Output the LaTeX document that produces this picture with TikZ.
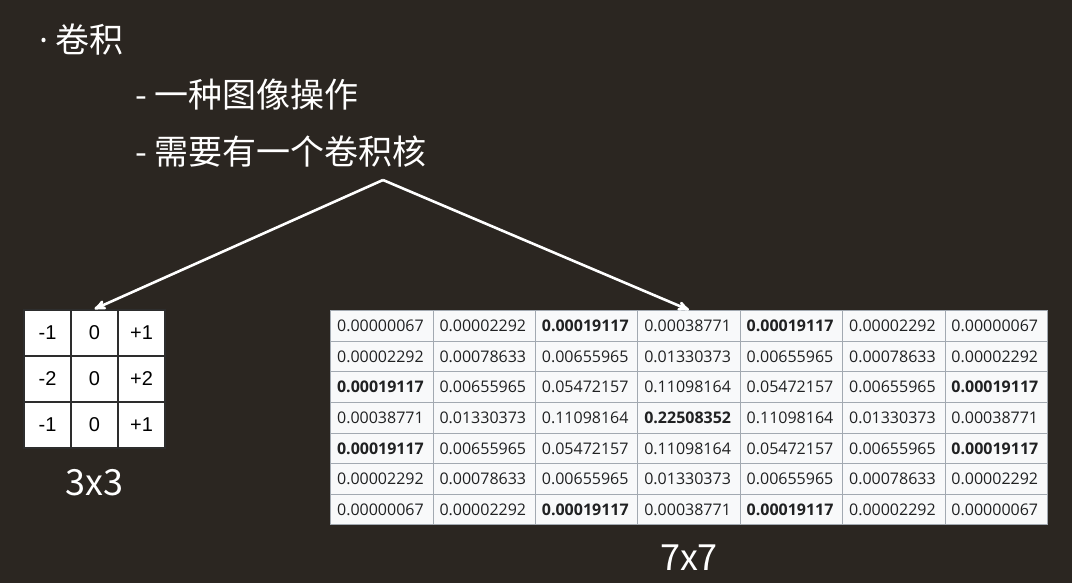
\documentclass[tikz,border=0pt]{standalone}
\usepackage{fontspec}
\usepackage{tikz}
\usetikzlibrary{arrows,matrix,positioning}
\newfontfamily\cjk{Noto Sans CJK SC}
\newfontfamily\tabfont{Open Sans}
\newfontfamily\kernfont{Liberation Sans}
\definecolor{slidebg}{RGB}{43,38,33}
\definecolor{tablebg}{RGB}{248,249,250}
\definecolor{tablegrid}{RGB}{162,169,177}
\definecolor{tabletext}{RGB}{32,33,34}
\definecolor{kerngrid}{RGB}{45,45,45}
\tikzset{
    ampersand replacement=\&,
    >=stealth',
    slidetext/.style={
        text=white,
        font=\cjk\fontsize{34}{40}\selectfont,
        inner sep=0pt,
    },
    sizelabel/.style={
        text=white,
        font=\cjk\fontsize{36}{40}\selectfont,
        inner sep=0pt,
    },
    kcell/.style={
        draw=kerngrid,
        line width=1.6pt,
        fill=white,
        minimum width=47pt,
        minimum height=46pt,
        inner sep=0pt,
        font=\kernfont\fontsize{20}{22}\selectfont,
    },
    gcell/.style={
        draw=tablegrid,
        line width=0.8pt,
        fill=tablebg,
        text=tabletext,
        minimum height=30.6pt,
        inner xsep=6.5pt,
        inner ysep=0pt,
        text width=89.4pt,
        align=left,
        font=\tabfont\fontsize{16}{18}\selectfont,
    },
    peak/.style={
        font=\tabfont\bfseries\fontsize{16}{18}\selectfont,
    },
    pointer/.style={
        draw=white,
        line width=2.6pt,
        ->,
    },
}

\begin{document}
\begin{tikzpicture}[x=1pt, y=-1pt]
    \fill[slidebg] (0,0) rectangle (1072,583);
    \useasboundingbox (0,0) rectangle (1072,583);

    % bullet text
    \node[slidetext, anchor=west] (title) at (39,40) {{\tabfont ·} 卷积};
    \node[slidetext, anchor=west] (op) at (135,95) {- 一种图像操作};
    \node[slidetext, anchor=west] (need) at (135,152) {- 需要有一个卷积核};

    % sobel kernel
    \matrix (kernel) [matrix of nodes, nodes={kcell}, inner sep=0pt,
        column sep=-1.6pt, row sep=-1.6pt, anchor=north west] at (23,309) {
        -1 \& 0 \& +1 \\
        -2 \& 0 \& +2 \\
        -1 \& 0 \& +1 \\
    };
    \node[sizelabel, below=20pt of kernel] (ksize) {3x3};

    % gaussian kernel
    \matrix (gauss) [matrix of nodes, nodes={gcell}, inner sep=0pt,
        column sep=-0.8pt, row sep=-0.8pt, anchor=north west] at (330,310) {
        0.00000067 \& 0.00002292 \& |[peak]| 0.00019117 \& 0.00038771 \& |[peak]| 0.00019117 \& 0.00002292 \& 0.00000067 \\
        0.00002292 \& 0.00078633 \& 0.00655965 \& 0.01330373 \& 0.00655965 \& 0.00078633 \& 0.00002292 \\
        |[peak]| 0.00019117 \& 0.00655965 \& 0.05472157 \& 0.11098164 \& 0.05472157 \& 0.00655965 \& |[peak]| 0.00019117 \\
        0.00038771 \& 0.01330373 \& 0.11098164 \& |[peak]| 0.22508352 \& 0.11098164 \& 0.01330373 \& 0.00038771 \\
        |[peak]| 0.00019117 \& 0.00655965 \& 0.05472157 \& 0.11098164 \& 0.05472157 \& 0.00655965 \& |[peak]| 0.00019117 \\
        0.00002292 \& 0.00078633 \& 0.00655965 \& 0.01330373 \& 0.00655965 \& 0.00078633 \& 0.00002292 \\
        0.00000067 \& 0.00002292 \& |[peak]| 0.00019117 \& 0.00038771 \& |[peak]| 0.00019117 \& 0.00002292 \& 0.00000067 \\
    };
    \node[sizelabel, below=19pt of gauss] (gsize) {7x7};

    % arrows from the text
    \coordinate (fork) at (383,180);
    \draw[pointer] (fork) -- (kernel.north);
    \draw[pointer] (fork) -- (gauss.north);
\end{tikzpicture}
\end{document}
